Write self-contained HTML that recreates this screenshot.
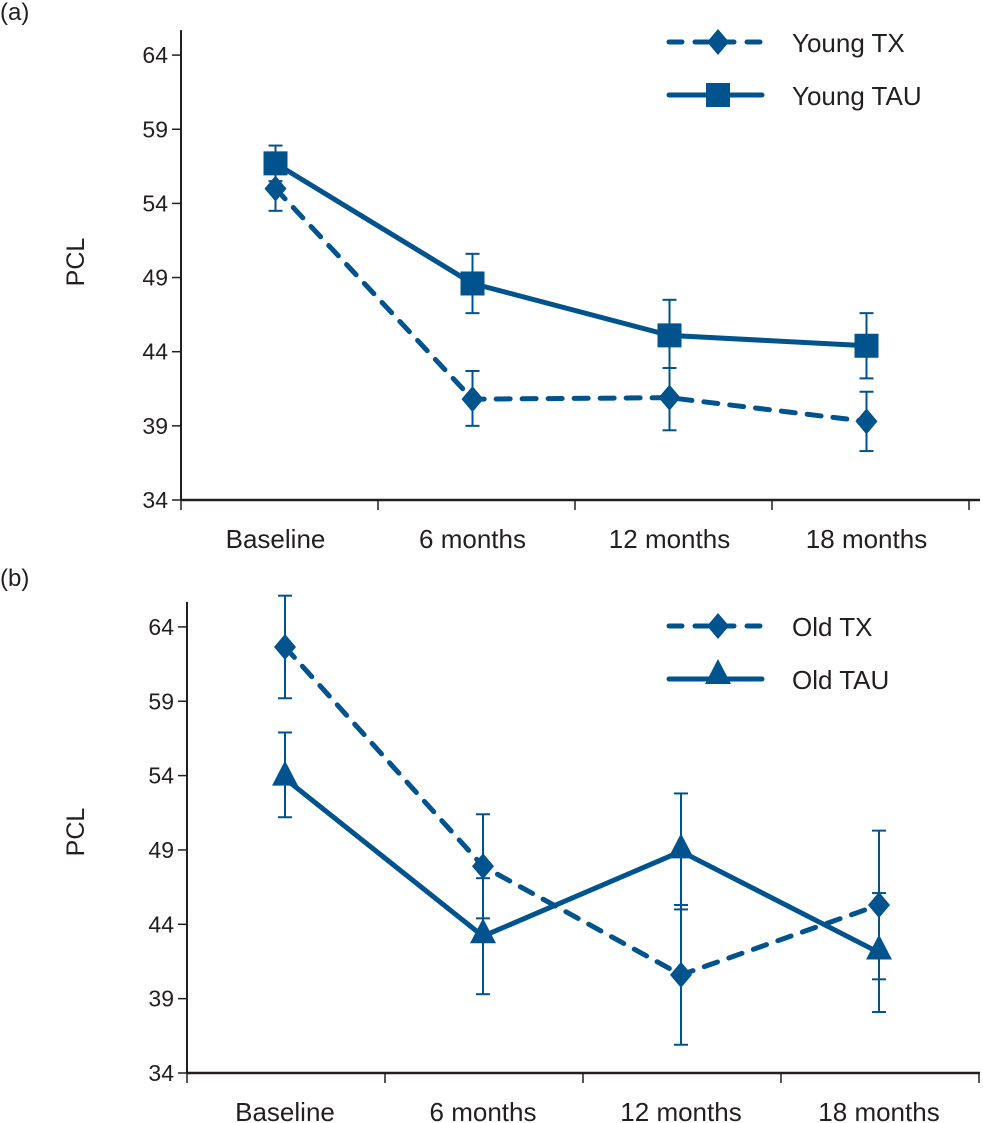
<!DOCTYPE html>
<html><head><meta charset="utf-8"><style>
html,body{margin:0;padding:0;background:#fff}
svg{display:block}
text{font-family:"Liberation Sans",sans-serif;fill:#231f20}
</style></head><body>
<svg id="chart" width="983" height="1123" viewBox="0 0 983 1123" xmlns="http://www.w3.org/2000/svg"></svg>
<script>
const categories = ["Baseline","6 months","12 months","18 months"];
const yTicks = [34,39,44,49,54,59,64];
const youngTX = [55.0,40.8,40.9,39.3];
const youngTXLo = [53.5,39.0,38.7,37.3];
const youngTXHi = [56.5,42.7,42.9,41.3];
const youngTAU = [56.7,48.6,45.1,44.4];
const youngTAULo = [55.5,46.6,42.9,42.2];
const youngTAUHi = [57.9,50.6,47.5,46.6];
const oldTX = [62.65,47.9,40.6,45.3];
const oldTXLo = [59.2,44.4,35.9,40.3];
const oldTXHi = [66.1,51.4,45.3,50.3];
const oldTAU = [53.8,43.2,48.9,42.1];
const oldTAULo = [51.2,39.3,45.0,38.1];
const oldTAUHi = [56.9,47.1,52.8,46.1];

const C = "#00538c";
const svg = document.getElementById('chart');
const NS = "http://www.w3.org/2000/svg";
function mk(tag, attrs, parent){const e=document.createElementNS(NS,tag);for(const k in attrs)e.setAttribute(k,attrs[k]);(parent||svg).appendChild(e);return e;}

function panel(cfg){
  const g = mk('g',{});
  
  
  const y = v => cfg.yBase - (v-34)*cfg.yStep;
  const x = i => cfg.x0 + cfg.band*(i+0.5) + cfg.dx;
  const lab = mk('text',{x:0,y:cfg.labelY,'font-size':24},g); lab.textContent=cfg.label;
  
  
  const yt = mk('text',{x:0,y:0,'font-size':25,'text-anchor':'middle',transform:`translate(84,${cfg.pclY}) rotate(-90)`},g); yt.textContent='PCL';
  
  
  mk('line',{x1:cfg.x0,y1:y(64)-25,x2:cfg.x0,y2:cfg.yBase,stroke:'#231f20','stroke-width':2},g);
  mk('line',{x1:cfg.x0,y1:cfg.yBase,x2:980,y2:cfg.yBase,stroke:'#231f20','stroke-width':2.5},g);
  yTicks.forEach(t=>{
    mk('line',{x1:cfg.x0-9,y1:y(t),x2:cfg.x0,y2:y(t),stroke:'#231f20','stroke-width':1.5},g);
    const tx = mk('text',{x:cfg.x0-13,y:y(t)+8,'font-size':23,'text-anchor':'end'},g); tx.textContent=t;
    
    
  });
  for(let i=0;i<=categories.length;i++){
    const xx = cfg.x0+cfg.band*i;
    mk('line',{x1:xx,y1:cfg.yBase,x2:xx,y2:cfg.yBase+10,stroke:'#231f20','stroke-width':1.5},g);
  }
  categories.forEach((c,i)=>{
    const tx = mk('text',{x:x(i),y:cfg.yBase+48,'font-size':26,'text-anchor':'middle'},g); tx.textContent=c;
    
    
  });
  function marker(type,cx,cy,parent){
    let m;
    if(type==='diamond') m=mk('polygon',{points:`${cx},${cy-13} ${cx+11},${cy} ${cx},${cy+13} ${cx-11},${cy}`,fill:C},parent);
    else if(type==='square') m=mk('rect',{x:cx-12,y:cy-12,width:24,height:24,fill:C},parent);
    else m=mk('polygon',{points:`${cx},${cy-18} ${cx+13},${cy+7} ${cx-13},${cy+7}`,fill:C},parent);
    return m;
  }
  cfg.series.forEach(s=>{
    const sg = mk('g',{},g);
    
    
    s.vals.forEach((v,i)=>{
      const xx=x(i);
      mk('line',{x1:xx,y1:y(s.lo[i]),x2:xx,y2:y(s.hi[i]),stroke:C,'stroke-width':2},sg);
      mk('line',{x1:xx-7,y1:y(s.lo[i]),x2:xx+7,y2:y(s.lo[i]),stroke:C,'stroke-width':2},sg);
      mk('line',{x1:xx-7,y1:y(s.hi[i]),x2:xx+7,y2:y(s.hi[i]),stroke:C,'stroke-width':2},sg);
    });
    const pts = s.vals.map((v,i)=>`${x(i)},${y(v)}`).join(' ');
    const pl = mk('polyline',{points:pts,fill:'none',stroke:C,'stroke-width':5,'stroke-linecap':'round','stroke-linejoin':'round'},sg);
    if(s.dash) pl.setAttribute('stroke-dasharray','14 12');
    s.vals.forEach((v,i)=>{
      const m = marker(s.marker,x(i),y(v),sg);
      
      
    });
    const lg = mk('g',{},g);
    
    
    const ly = s.legendY;
    const ll = mk('line',{x1:669,y1:ly,x2:762,y2:ly,stroke:C,'stroke-width':5,'stroke-linecap':'round'},lg);
    if(s.dash) ll.setAttribute('stroke-dasharray','13 13');
    marker(s.marker,718,ly+(s.marker==='triangle'?-2:0),lg);
    const lt = mk('text',{x:792,y:ly+10,'font-size':26},lg); lt.textContent=s.label;
  });
}

panel({name:'panel-a',label:'(a)',labelY:20,pclY:262,x0:181,band:197,dx:-4,yBase:500,yStep:14.83,
  series:[
    {id:'young-tx-series',label:'Young TX',vals:youngTX,lo:youngTXLo,hi:youngTXHi,marker:'diamond',dash:true,legendY:42},
    {id:'young-tau-series',label:'Young TAU',vals:youngTAU,lo:youngTAULo,hi:youngTAUHi,marker:'square',dash:false,legendY:95}
  ]});
panel({name:'panel-b',label:'(b)',labelY:586,pclY:832,x0:187,band:198,dx:-1,yBase:1073,yStep:14.87,
  series:[
    {id:'old-tx-series',label:'Old TX',vals:oldTX,lo:oldTXLo,hi:oldTXHi,marker:'diamond',dash:true,legendY:626},
    {id:'old-tau-series',label:'Old TAU',vals:oldTAU,lo:oldTAULo,hi:oldTAUHi,marker:'triangle',dash:false,legendY:679}
  ]});
</script>
</body></html>
